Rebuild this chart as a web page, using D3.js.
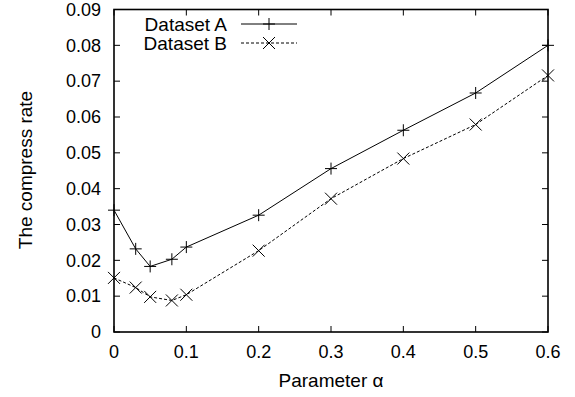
<!DOCTYPE html>
<html><head><meta charset="utf-8">
<script src="https://cdn.jsdelivr.net/npm/d3@7"></script>
<style>body{margin:0;background:#fff}svg{display:block}text{font-family:"Liberation Sans",Arial,sans-serif;fill:#000}</style>
</head><body>
<script>
const alphas = [0, 0.03, 0.05, 0.08, 0.1, 0.2, 0.3, 0.4, 0.5, 0.6];
const datasetA = [0.034, 0.0232, 0.0183, 0.0203, 0.0237, 0.0326, 0.0456, 0.0563, 0.0667, 0.0800];
const datasetB = [0.0151, 0.0124, 0.0098, 0.0088, 0.0104, 0.0227, 0.0372, 0.0484, 0.0579, 0.0716];
const xTicks = [0, 0.1, 0.2, 0.3, 0.4, 0.5, 0.6];
const yTicks = [0, 0.01, 0.02, 0.03, 0.04, 0.05, 0.06, 0.07, 0.08, 0.09];
const seriesNames = ["Dataset A", "Dataset B"];

const W = 575, H = 397;
const m = {left: 114, right: 548, top: 9.5, bottom: 332};
const svg = d3.select("body").append("svg").attr("width", W).attr("height", H);
const x = d3.scaleLinear().domain([0, 0.6]).range([m.left, m.right]);
const y = d3.scaleLinear().domain([0, 0.09]).range([m.bottom, m.top]);
const fs = 18, fsT = 19;

// ticks (inward, mirrored)
const tl = 6;
const g = svg.append("g").attr("stroke", "#000").attr("stroke-width", 1);
xTicks.forEach(t => {
  g.append("line").attr("x1", x(t)).attr("x2", x(t)).attr("y1", m.bottom).attr("y2", m.bottom - tl);
  g.append("line").attr("x1", x(t)).attr("x2", x(t)).attr("y1", m.top).attr("y2", m.top + tl);
});
yTicks.forEach(t => {
  g.append("line").attr("y1", y(t)).attr("y2", y(t)).attr("x1", m.left).attr("x2", m.left + tl);
  g.append("line").attr("y1", y(t)).attr("y2", y(t)).attr("x1", m.right).attr("x2", m.right - tl);
});
svg.append("rect").attr("x", m.left).attr("y", m.top).attr("width", m.right - m.left).attr("height", m.bottom - m.top)
  .attr("fill", "none").attr("stroke", "#000").attr("stroke-width", 1.6);

// tick labels
xTicks.forEach(t => svg.append("text").attr("x", x(t)).attr("y", 358).attr("text-anchor", "middle")
  .attr("font-size", fs).text(t === 0 ? "0" : d3.format(".1f")(t)));
yTicks.forEach(t => svg.append("text").attr("x", 101).attr("y", y(t)).attr("dy", "0.35em").attr("text-anchor", "end")
  .attr("font-size", fs).text(t === 0 ? "0" : d3.format(".2f")(t)));

// axis titles
svg.append("text").attr("x", 331).attr("y", 387).attr("text-anchor", "middle").attr("font-size", fsT).text("Parameter α");
svg.append("text").attr("transform", "translate(32,170) rotate(-90)").attr("text-anchor", "middle").attr("font-size", fsT).text("The compress rate");

// lines
const line = d3.line().x(d => x(d[0])).y(d => y(d[1]));
const ptsA = alphas.map((a, i) => [a, datasetA[i]]);
const ptsB = alphas.map((a, i) => [a, datasetB[i]]);
svg.append("path").attr("d", line(ptsA)).attr("fill", "none").attr("stroke", "#000").attr("stroke-width", 1);
svg.append("path").attr("d", line(ptsB)).attr("fill", "none").attr("stroke", "#000").attr("stroke-width", 1).attr("stroke-dasharray", "3,2");

const ms = 6;
function plus(gp, cx, cy) {
  gp.append("path").attr("d", `M${cx-ms},${cy}H${cx+ms}M${cx},${cy-ms}V${cy+ms}`).attr("stroke", "#000").attr("stroke-width", 1).attr("fill", "none");
}
function cross(gp, cx, cy) {
  gp.append("path").attr("d", `M${cx-ms},${cy-ms}L${cx+ms},${cy+ms}M${cx-ms},${cy+ms}L${cx+ms},${cy-ms}`).attr("stroke", "#000").attr("stroke-width", 1).attr("fill", "none");
}
const mk = svg.append("g");
ptsA.forEach(p => plus(mk, x(p[0]), y(p[1])));
ptsB.forEach(p => cross(mk, x(p[0]), y(p[1])));

// legend
const legY = [24, 43];
seriesNames.forEach((n, i) => {
  svg.append("text").attr("x", 227).attr("y", legY[i]).attr("dy", "0.35em").attr("text-anchor", "end").attr("font-size", fsT).text(n);
  const l = svg.append("line").attr("x1", 241).attr("x2", 297).attr("y1", legY[i]).attr("y2", legY[i]).attr("stroke", "#000").attr("stroke-width", 1);
  if (i === 1) l.attr("stroke-dasharray", "3,2");
  if (i === 0) plus(svg, 269, legY[i]); else cross(svg, 269, legY[i]);
});
</script>
</body></html>
